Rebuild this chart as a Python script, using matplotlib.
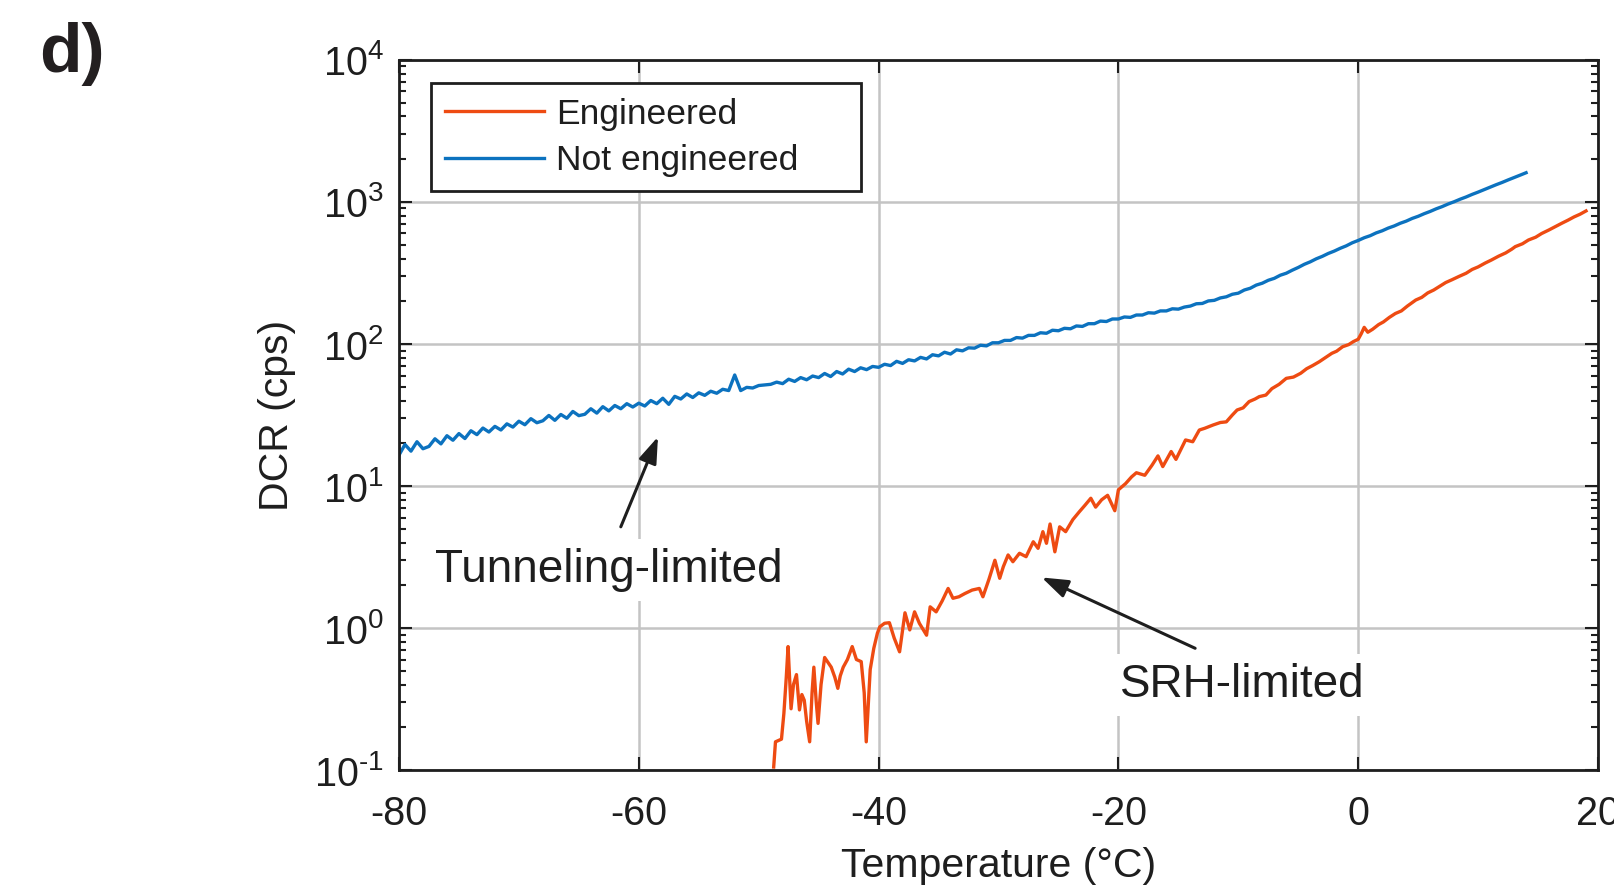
import numpy as np
import matplotlib
matplotlib.use('Agg')
import matplotlib.pyplot as plt

plt.rcParams['font.family'] = ['Liberation Sans', 'DejaVu Sans']
plt.rcParams['mathtext.fontset'] = 'custom'
plt.rcParams['mathtext.rm'] = 'Liberation Sans'
plt.rcParams['axes.unicode_minus'] = False

# dark count rate, not engineered device (0.5 degC steps from -80 to 14)
plain_temp = np.arange(-80, 14.01, 0.5)
plain_dcr = [
	16.5, 19.6, 17.6, 20.5, 18.3, 19.0, 21.5, 19.8, 22.6, 21.0,
	23.4, 21.6, 24.5, 23.0, 25.6, 24.0, 26.3, 24.8, 27.4, 26.0,
	28.6, 27.0, 29.8, 27.9, 28.8, 31.4, 29.0, 31.9, 30.0, 33.5,
	31.3, 32.0, 35.0, 32.6, 36.2, 33.8, 36.9, 35.0, 38.0, 36.0,
	38.3, 36.6, 40.0, 38.0, 41.5, 37.6, 42.8, 41.0, 44.5, 42.0,
	45.3, 43.5, 46.5, 45.0, 48.0, 47.0, 60.5, 47.0, 49.5, 49.0,
	51.0, 51.5, 52.0, 53.9, 52.6, 56.5, 54.5, 58.0, 56.0, 59.5,
	58.0, 62.0, 59.0, 64.0, 61.5, 66.5, 64.0, 68.0, 66.0, 69.5,
	68.5, 72.0, 70.5, 75.5, 73.0, 77.5, 76.0, 80.5, 78.5, 84.0,
	82.5, 87.5, 85.0, 91.0, 89.5, 94.0, 93.5, 98.0, 97.0, 102,
	102, 106, 106, 111, 110, 115, 115, 120, 119, 125,
	124, 129, 128, 134, 133, 139, 139, 145, 144, 150,
	150, 155, 154, 160, 160, 166, 165, 171, 171, 177,
	176, 182, 185, 192, 193, 201, 203, 211, 215, 224,
	228, 240, 247, 260, 268, 281, 290, 305, 315, 331,
	346, 364, 379, 398, 414, 434, 451, 472, 491, 516,
	536, 560, 579, 606, 627, 655, 678, 708, 733, 766,
	793, 827, 858, 895, 928, 968, 1004, 1046, 1085, 1131,
	1174, 1222, 1270, 1323, 1373, 1430, 1485, 1545, 1607,
]

# dark count rate, engineered device
eng_temp = [
	-48.75, -48.6, -48.1, -47.9, -47.7, -47.55, -47.3, -47.1, -46.85, -46.6,
	-46.4, -46.2, -46.0, -45.75, -45.55, -45.4, -45.2, -45.05, -44.8, -44.5,
	-44.2, -43.95, -43.65, -43.4, -43.2, -42.95, -42.6, -42.2, -41.85, -41.45,
	-41.2, -41.03, -40.85, -40.7, -40.4, -40.1, -39.9, -39.5, -39.1, -38.7,
	-38.25, -37.8, -37.4, -37.0, -36.6, -36.0, -35.7, -35.2, -34.7, -34.2,
	-33.8, -33.3, -32.8, -32.2, -31.6, -31.3, -30.8, -30.3, -29.9, -29.6,
	-29.2, -28.8, -28.25, -27.7, -27.1, -26.7, -26.3, -26.0, -25.7, -25.3,
	-24.9, -24.4, -23.8, -23.25, -22.8, -22.3, -21.9, -21.4, -20.9, -20.3,
	-20.0, -19.4, -18.9, -18.5, -17.8, -17.2, -16.7, -16.3, -15.6, -15.2,
	-14.8, -14.4, -13.8, -13.25, -12.8, -12.1, -11.5, -11.0, -10.5, -10.1,
	-9.6, -9.1, -8.6, -8.25, -7.7, -7.2, -6.6, -6.0, -5.4, -4.8,
	-4.3, -3.8, -3.25, -2.7, -2.2, -1.8, -1.3, -0.8, -0.4, 0.0,
	0.25, 0.5, 0.8, 1.2, 1.7, 2.1, 2.6, 3.1, 3.6, 4.1,
	4.8, 5.3, 5.8, 6.3, 6.8, 7.3, 7.8, 8.4, 9.0, 9.5,
	10.0, 10.6, 11.1, 11.7, 12.3, 12.8, 13.1, 13.7, 14.2, 14.8,
	15.3, 15.9, 16.4, 17.0, 17.5, 18.0, 18.5, 19.0,
]
eng_dcr = [
	0.105, 0.158, 0.165, 0.25, 0.45, 0.74, 0.27, 0.40, 0.47, 0.265,
	0.34, 0.31, 0.22, 0.158, 0.35, 0.53, 0.30, 0.213, 0.40, 0.62,
	0.57, 0.53, 0.45, 0.376, 0.46, 0.53, 0.60, 0.74, 0.60, 0.58,
	0.35, 0.158, 0.30, 0.51, 0.72, 0.92, 1.02, 1.08, 1.09, 0.85,
	0.68, 1.28, 0.97, 1.30, 1.08, 0.89, 1.41, 1.30, 1.55, 1.90,
	1.62, 1.66, 1.75, 1.85, 1.90, 1.66, 2.2, 3.0, 2.24, 2.7,
	3.27, 2.93, 3.36, 3.18, 4.05, 3.64, 4.77, 3.95, 5.4, 3.44,
	5.16, 4.77, 5.8, 6.6, 7.3, 8.2, 7.1, 8.0, 8.6, 6.7,
	9.4, 10.4, 11.6, 12.4, 11.9, 14.0, 16.3, 13.7, 17.5, 15.4,
	18.0, 21.1, 20.5, 24.8, 25.5, 26.9, 28.0, 28.3, 31.6, 34.3,
	35.5, 39.3, 41.0, 42.6, 43.7, 48.5, 52.0, 57.3, 58.5, 62.2,
	67.0, 70.5, 75, 80.5, 86.0, 89.0, 95.7, 99.0, 104, 108,
	118, 131, 121, 127, 137, 143, 154, 164, 171, 185,
	204, 213, 229, 240, 255, 271, 283, 299, 315, 335,
	349, 372, 390, 415, 438, 465, 485, 508, 540, 565,
	600, 635, 668, 710, 745, 785, 820, 865,
]

xticks = [-80, -60, -40, -20, 0, 20]
yticks = [1e-1, 1e0, 1e1, 1e2, 1e3, 1e4]
ytick_labels = [r'$\mathregular{10^{\text{-}1}}$', r'$\mathregular{10^{0}}$', r'$\mathregular{10^{1}}$',
				r'$\mathregular{10^{2}}$', r'$\mathregular{10^{3}}$', r'$\mathregular{10^{4}}$']

txt = '#1e1e1e'
fig = plt.figure(figsize=(16.14, 8.9), dpi=100)
ax = fig.add_axes([0.2472, 0.1348, 0.7429, 0.7978])

ax.plot(eng_temp, eng_dcr, color='#ee4b12', lw=2.4, label='Engineered')
ax.plot(plain_temp, plain_dcr, color='#0c72bf', lw=2.4, label='Not engineered')

ax.set_yscale('log')
ax.set_xlim(-80, 20)
ax.set_ylim(1e-1, 1e4)
ax.set_xticks(xticks)
ax.set_xticklabels([str(t) for t in xticks])
ax.set_yticks(yticks)
ax.set_yticklabels(ytick_labels)

ax.set_axisbelow(True)
ax.grid(True, which='major', color='#c4c4c4', lw=1.8)
for s in ax.spines.values():
	s.set_linewidth(2.0)
	s.set_color(txt)
ax.tick_params(which='both', direction='in', top=True, right=True, colors=txt, width=1.5)
ax.tick_params(which='major', length=9.5, labelsize=28.5)
ax.tick_params(which='minor', length=5)
ax.tick_params(axis='x', pad=18)
ax.tick_params(axis='y', pad=11)

ax.set_xlabel('Temperature (°C)', fontsize=29.5, color=txt, va='top')
ax.xaxis.set_label_coords(0.5, -0.108)
ax.set_ylabel('DCR (cps)', fontsize=29.5, color=txt)
ax.yaxis.set_label_coords(-0.086, 0.5)

leg = ax.legend(loc='upper left', bbox_to_anchor=(0.0264, 0.5, 0.359, 0.467), mode='expand',
				borderaxespad=0, fontsize=25.5, handlelength=2.8, handletextpad=0.35,
				labelspacing=0.38, borderpad=0.4, fancybox=False, framealpha=1)
leg.get_frame().set_edgecolor(txt)
leg.get_frame().set_linewidth(2.0)
for t in leg.get_texts():
	t.set_color(txt)
for h in leg.get_lines():
	h.set_linewidth(2.4)

# annotations with arrows
arrow = dict(arrowstyle='-|>,head_length=0.8,head_width=0.28', color=txt, lw=2.2,
			 mutation_scale=20, shrinkA=0, shrinkB=0)
box = dict(boxstyle='square,pad=0.2', fc='white', ec='none')
ax.annotate('', xy=(-58.4, 22.2), xytext=(-61.5, 5.16), arrowprops=arrow)
ax.text(-77.0, 2.12, 'Tunneling-limited', fontsize=33, color=txt, va='baseline', bbox=box)
ax.annotate('', xy=(-26.4, 2.27), xytext=(-13.6, 0.72), arrowprops=arrow)
ax.text(-19.9, 0.328, 'SRH-limited', fontsize=33, color=txt, va='baseline', bbox=box)

fig.text(0.024, 0.919, 'd)', fontsize=50, fontweight='bold', color='#231f20', va='baseline')

fig.savefig('out.png', dpi=100)
